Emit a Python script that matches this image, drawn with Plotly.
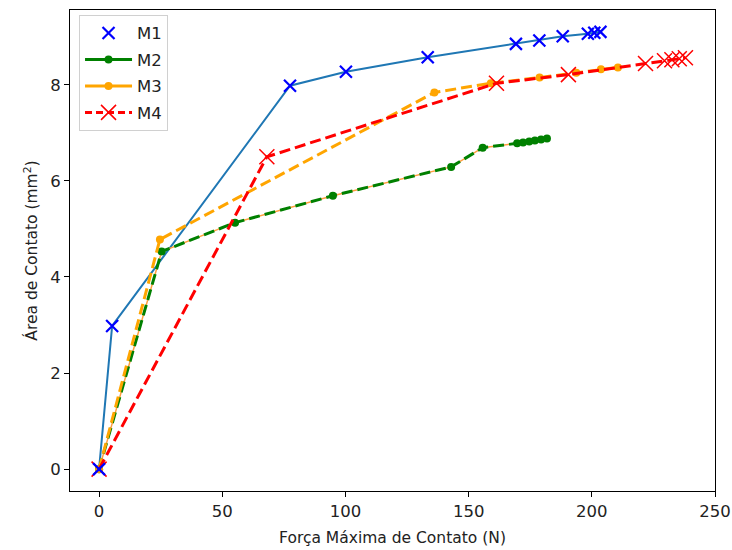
import plotly.graph_objects as go

# Contact area versus maximum contact force for four samples
m1_force = [0, 5.3, 77.5, 100.2, 133.4, 169.2, 178.7, 188.2, 198.4, 201.0, 203.5]
m1_area = [0, 2.98, 7.98, 8.27, 8.57, 8.85, 8.92, 9.01, 9.06, 9.08, 9.10]

m2_force = [0, 25.4, 55.2, 94.9, 142.9, 155.7, 169.7, 172.1, 174.6, 176.9, 179.4, 181.8]
m2_area = [0, 4.53, 5.13, 5.69, 6.29, 6.69, 6.78, 6.80, 6.82, 6.84, 6.86, 6.88]

m3_force = [0, 24.7, 136.1, 159.0, 178.8, 193.7, 203.7, 210.6]
m3_area = [0, 4.78, 7.84, 8.03, 8.15, 8.25, 8.32, 8.36]

m4_force = [0, 68.1, 161.3, 190.5, 221.8, 229.5, 232.5, 235.5, 238.0]
m4_area = [0, 6.50, 8.03, 8.21, 8.44, 8.50, 8.52, 8.54, 8.56]

x_ticks = [0, 50, 100, 150, 200, 250]
y_ticks = [0, 2, 4, 6, 8]

FONT = "DejaVu Sans"
DASH = "11px,5px"

fig = go.Figure()

# M1: connecting line plus cross markers
fig.add_trace(go.Scatter(x=m1_force, y=m1_area, mode="lines",
                         line=dict(color="#1f77b4", width=2), showlegend=False))
# M2: thin underlying line and dashed green line with dots
fig.add_trace(go.Scatter(x=m2_force, y=m2_area, mode="lines",
                         line=dict(color="#ff9f3f", width=1.5), showlegend=False))
fig.add_trace(go.Scatter(x=m2_force, y=m2_area, mode="lines+markers",
                         line=dict(color="#008000", width=3, dash=DASH),
                         marker=dict(symbol="circle", size=8, color="#008000"),
                         showlegend=False))
# M3: dashed orange with dots
fig.add_trace(go.Scatter(x=m3_force, y=m3_area, mode="lines+markers",
                         line=dict(color="#ffa500", width=3, dash=DASH),
                         marker=dict(symbol="circle", size=8, color="#ffa500"),
                         showlegend=False))
# M4: dashed red with thin crosses
fig.add_trace(go.Scatter(x=m4_force, y=m4_area, mode="lines+markers",
                         line=dict(color="#ff0000", width=3, dash=DASH),
                         marker=dict(symbol="x-thin", size=15,
                                     line=dict(color="#ff0000", width=1.5)),
                         showlegend=False))
fig.add_trace(go.Scatter(x=m1_force, y=m1_area, mode="markers",
                         marker=dict(symbol="x-thin", size=12,
                                     line=dict(color="#0000ff", width=2.2)),
                         showlegend=False))

# Legend entries
legend_items = [
    ("M1", dict(mode="markers", marker=dict(symbol="x-thin", size=12,
                                            line=dict(color="#0000ff", width=2.2)))),
    ("M2", dict(mode="lines+markers", line=dict(color="#008000", width=3),
                marker=dict(symbol="circle", size=8, color="#008000"))),
    ("M3", dict(mode="lines+markers", line=dict(color="#ffa500", width=3),
                marker=dict(symbol="circle", size=8, color="#ffa500"))),
    ("M4", dict(mode="lines+markers", line=dict(color="#ff0000", width=3, dash="7px,4px"),
                marker=dict(symbol="x-thin", size=15,
                            line=dict(color="#ff0000", width=1.5)))),
]
for name, style in legend_items:
    fig.add_trace(go.Scatter(x=[None], y=[None], name=name, legendgroup=name, **style))

axis_common = dict(
    showgrid=False, zeroline=False, showline=True, mirror=True,
    linecolor="black", linewidth=1, ticks="outside", ticklen=5,
    tickwidth=1, tickcolor="black", automargin=False,
    tickfont=dict(family=FONT, size=16.5, color="#222222"),
)

fig.update_layout(
    width=732, height=550,
    margin=dict(l=70, r=17, t=10, b=59),
    paper_bgcolor="white", plot_bgcolor="white",
    font=dict(family=FONT, size=15.5, color="#222222"),
    xaxis=dict(range=[-11.8, 250], tickvals=x_ticks,
               title=dict(text="Força Máxima de Contato (N)",
                          font=dict(family=FONT, size=15.5, color="#222222"), standoff=12),
               **axis_common),
    yaxis=dict(range=[-0.455, 9.555], tickvals=y_ticks,
               title=dict(text="Área de Contato (mm<sup>2</sup>)",
                          font=dict(family=FONT, size=15.5, color="#222222"), standoff=8),
               **axis_common),
    legend=dict(x=0.014, y=0.99, xanchor="left", yanchor="top",
                bgcolor="rgba(255,255,255,0.8)", bordercolor="#d0d0d0", borderwidth=1,
                font=dict(family=FONT, size=16.5, color="#222222"),
                traceorder="grouped", tracegroupgap=2, itemwidth=47),
)

fig.write_html("out.html")
